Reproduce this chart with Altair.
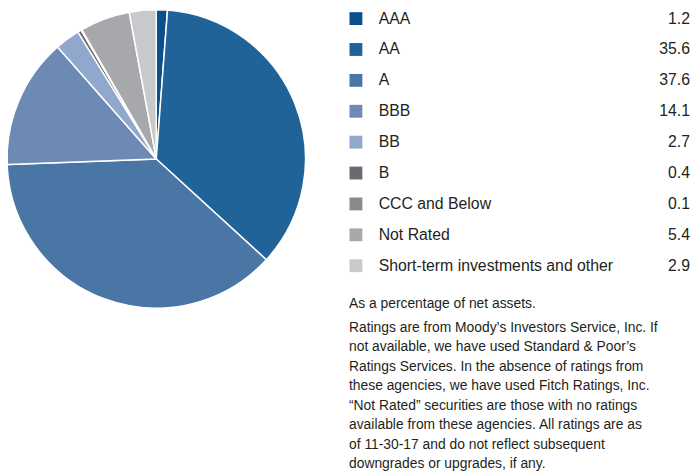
import altair as alt
import pandas as pd

categories = ["AAA", "AA", "A", "BBB", "BB", "B", "CCC and Below", "Not Rated",
              "Short-term investments and other"]
values = [1.2, 35.6, 37.6, 14.1, 2.7, 0.4, 0.1, 5.4, 2.9]
value_labels = ["1.2", "35.6", "37.6", "14.1", "2.7", "0.4", "0.1", "5.4", "2.9"]
colors = ["#0b4f8c", "#1f6398", "#4a76a6", "#6c8ab4", "#8fa8cb", "#6a6b70",
          "#898a8e", "#a7a8ab", "#c8c9cb"]

note_head = ["As a percentage of net assets."]
note_lines = [
    "Ratings are from Moody\u2019s Investors Service, Inc. If",
    "not available, we have used Standard & Poor\u2019s",
    "Ratings Services. In the absence of ratings from",
    "these agencies, we have used Fitch Ratings, Inc.",
    "\u201cNot Rated\u201d securities are those with no ratings",
    "available from these agencies. All ratings are as",
    "of 11-30-17 and do not reflect subsequent",
    "downgrades or upgrades, if any.",
]

FONT = "Liberation Sans"

df = pd.DataFrame({
    "cat": categories,
    "value": values,
    "label": value_labels,
    "idx": list(range(len(categories))),
})

color_scale = alt.Scale(domain=categories, range=colors)

pie = alt.Chart(df).mark_arc(
    outerRadius=151, stroke="white", strokeWidth=1.5, x=150, y=150
).encode(
    theta=alt.Theta("value:Q", stack=True),
    order=alt.Order("idx:Q"),
    color=alt.Color("cat:N", scale=color_scale, legend=None),
)

ypos = alt.Y("cat:N", sort=categories,
             scale=alt.Scale(type="point", domain=categories, range=[8, 258], padding=0),
             axis=None)

swatch = alt.Chart(df).mark_square(size=169, opacity=1, x=352).encode(
    y=ypos,
    color=alt.Color("cat:N", scale=color_scale, legend=None),
)

names = alt.Chart(df).mark_text(
    align="left", baseline="middle", x=375, fontSize=16, font=FONT, color="#231f20"
).encode(y=ypos, text="cat:N")

nums = alt.Chart(df).mark_text(
    align="right", baseline="middle", x=690, fontSize=16, font=FONT, color="#231f20"
).encode(y=ypos, text="label:N")

head = alt.Chart(pd.DataFrame({"t": note_head})).mark_text(
    align="left", baseline="middle", x=345, y=297, fontSize=14, font=FONT, color="#231f20"
).encode(text="t:N")

para = alt.Chart(pd.DataFrame({"t": [note_lines]})).mark_text(
    align="left", baseline="middle", x=345, y=321, fontSize=14, font=FONT,
    color="#231f20", lineHeight=19.7
).encode(text="t")

chart = alt.layer(pie, swatch, names, nums, head, para).properties(
    width=692, height=464, padding=0,
    autosize=alt.AutoSizeParams(type="none"),
).configure_view(stroke=None)

chart.save("out.html", embed_options={"renderer": "svg", "actions": False})
